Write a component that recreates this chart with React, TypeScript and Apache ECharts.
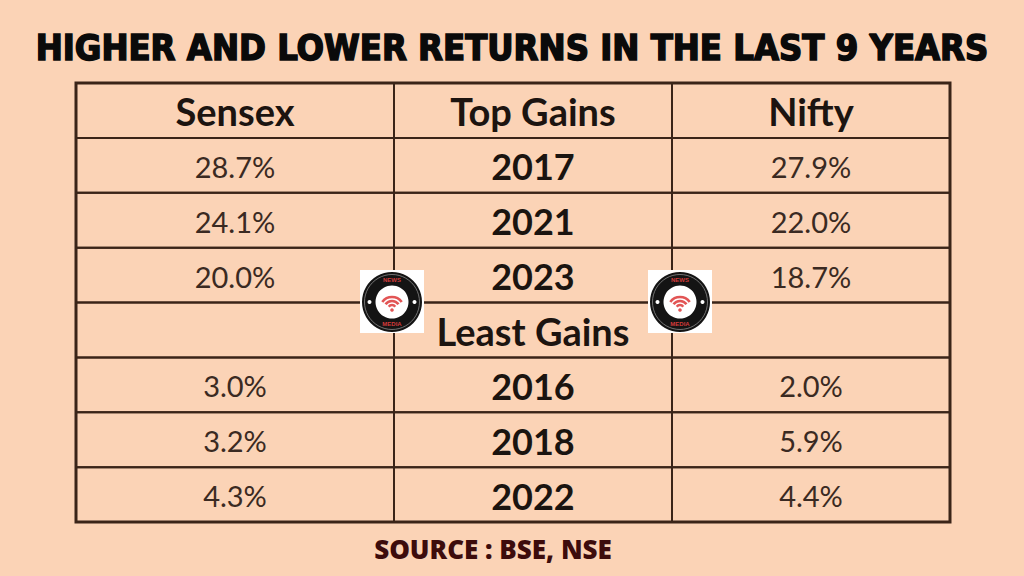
import React, { useEffect, useRef } from "react";
import * as echarts from "echarts";

// ---- data ----
const headers = ["Sensex", "Top Gains", "Nifty"];
const topYears = ["2017", "2021", "2023"];
const topSensex = [28.7, 24.1, 20.0];
const topNifty = [27.9, 22.0, 18.7];
const leastLabel = "Least Gains";
const leastYears = ["2016", "2018", "2022"];
const leastSensex = [3.0, 3.2, 4.3];
const leastNifty = [2.0, 5.9, 4.4];
const titleText = "HIGHER AND LOWER RETURNS IN THE LAST 9 YEARS";
const sourceText = "SOURCE : BSE, NSE";

// ---- layout / style ----
const BG = "#FBD3B6";
const LINE = "#3a2418";
const colEdges = [0, 318, 596, 874];
const fmt = (v: number) => v.toFixed(1) + "%";

type Kind = "head" | "value" | "year" | "empty";
type Cell = { col: number; row: number; text: string; kind: Kind };

function buildCells(): Cell[] {
  const cells: Cell[] = [];
  headers.forEach((h, c) => cells.push({ col: c, row: 0, text: h, kind: "head" }));
  topYears.forEach((y, i) => {
    const r = 1 + i;
    cells.push({ col: 0, row: r, text: fmt(topSensex[i]), kind: "value" });
    cells.push({ col: 1, row: r, text: y, kind: "year" });
    cells.push({ col: 2, row: r, text: fmt(topNifty[i]), kind: "value" });
  });
  cells.push({ col: 0, row: 4, text: "", kind: "empty" });
  cells.push({ col: 1, row: 4, text: leastLabel, kind: "head" });
  cells.push({ col: 2, row: 4, text: "", kind: "empty" });
  leastYears.forEach((y, i) => {
    const r = 5 + i;
    cells.push({ col: 0, row: r, text: fmt(leastSensex[i]), kind: "value" });
    cells.push({ col: 1, row: r, text: y, kind: "year" });
    cells.push({ col: 2, row: r, text: fmt(leastNifty[i]), kind: "value" });
  });
  return cells;
}

function logo(cx: number, cy: number) {
  return {
    type: "group",
    x: cx,
    y: cy,
    z: 100,
    children: [
      { type: "rect", z: 100, shape: { x: -32, y: -32, width: 64, height: 63 }, style: { fill: "#ffffff" } },
      { type: "circle", z: 101, shape: { cx: 0, cy: 0, r: 30 }, style: { fill: "#141414" } },
      { type: "circle", z: 102, shape: { cx: 0, cy: 0, r: 27.5 }, style: { fill: "none", stroke: "#8a8a8a", lineWidth: 0.8 } },
      { type: "circle", z: 102, shape: { cx: 0, cy: 0, r: 16.5 }, style: { fill: "#ffffff" } },
      { type: "circle", z: 102, shape: { cx: -22.5, cy: 0, r: 2 }, style: { fill: "#ffffff" } },
      { type: "circle", z: 102, shape: { cx: 22.5, cy: 0, r: 2 }, style: { fill: "#ffffff" } },
      { type: "text", z: 103, style: { x: 0, y: -22, text: "NEWS", fill: "#d23b3b", font: "bold 6px sans-serif", align: "center", verticalAlign: "middle" } },
      { type: "text", z: 103, style: { x: 0, y: 22, text: "MEDIA", fill: "#d23b3b", font: "bold 6px sans-serif", align: "center", verticalAlign: "middle" } },
      { type: "arc", z: 103, shape: { cx: 0, cy: 7, r: 12, startAngle: -Math.PI * 0.8, endAngle: -Math.PI * 0.2 }, style: { stroke: "#e25555", lineWidth: 2.6, fill: "none" } },
      { type: "arc", z: 103, shape: { cx: 0, cy: 7, r: 8, startAngle: -Math.PI * 0.8, endAngle: -Math.PI * 0.2 }, style: { stroke: "#e25555", lineWidth: 2.6, fill: "none" } },
      { type: "arc", z: 103, shape: { cx: 0, cy: 7, r: 4, startAngle: -Math.PI * 0.8, endAngle: -Math.PI * 0.2 }, style: { stroke: "#e25555", lineWidth: 2.6, fill: "none" } },
      { type: "circle", z: 103, shape: { cx: 0, cy: 8, r: 1.8 }, style: { fill: "#e25555" } },
    ],
  };
}

export default function App() {
  const ref = useRef<HTMLDivElement>(null);
  useEffect(() => {
    if (!ref.current) return;
    const chart = echarts.init(ref.current, undefined, { renderer: "svg" });
    const cells = buildCells();
    const rowKeys = Array.from({ length: 8 }, (_, i) => "r" + i);
    const fonts: Record<Kind, string> = {
      head: "bold 38px Lato",
      value: "29px Lato",
      year: "bold 36px Lato",
      empty: "27px Lato",
    };
    const colors: Record<Kind, string> = {
      head: "#1c1410",
      value: "#3a2a22",
      year: "#1a1410",
      empty: "#000",
    };
    chart.setOption({
      animation: false,
      backgroundColor: BG,
      title: {
        text: titleText,
        left: "center",
        top: 24,
        textStyle: {
          fontFamily: "DejaVu Sans Condensed",
          fontWeight: "bold",
          fontSize: 36,
          color: "#0a0a0a",
          textBorderColor: "#0a0a0a",
          textBorderWidth: 1.5,
          textShadowColor: "#e98b80",
          textShadowOffsetX: 2,
          textShadowOffsetY: 2,
          textShadowBlur: 0,
        },
      },
      grid: {
        left: 76,
        top: 83,
        width: 874,
        height: 439,
        show: true,
        borderColor: LINE,
        borderWidth: 3,
        backgroundColor: "transparent",
      },
      xAxis: { type: "value", min: colEdges[0], max: colEdges[3], show: false },
      yAxis: { type: "category", data: rowKeys, inverse: true, show: false },
      series: [
        {
          type: "custom",
          z: 2,
          data: cells.map((c) => [c.col, c.row]),
          renderItem: (params: any, api: any) => {
            const cell = cells[params.dataIndex];
            const row = api.value(1);
            const p0 = api.coord([colEdges[cell.col], row]);
            const p1 = api.coord([colEdges[cell.col + 1], row]);
            const h = api.size([0, 1])[1];
            const x0 = p0[0];
            const x1 = p1[0];
            const y0 = p0[1] - h / 2;
            return {
              type: "group",
              children: [
                {
                  type: "rect",
                  shape: { x: x0, y: y0, width: x1 - x0, height: h },
                  style: { fill: "none", stroke: LINE, lineWidth: 2 },
                },
                {
                  type: "text",
                  style: {
                    x: (x0 + x1) / 2,
                    y: y0 + h / 2 + 1,
                    text: cell.text,
                    font: fonts[cell.kind],
                    fill: colors[cell.kind],
                    align: "center",
                    verticalAlign: "middle",
                  },
                },
              ],
            };
          },
        },
      ],
      graphic: [
        logo(392, 302),
        logo(680, 302),
        {
          type: "text",
          x: 493,
          y: 549,
          z: 100,
          style: {
            text: sourceText,
            font: "800 26px 'Open Sans'",
            fill: "#3d0c0c",
            align: "center",
            verticalAlign: "middle",
          },
        },
      ],
    });
    return () => chart.dispose();
  }, []);
  return (
    <div
      ref={ref}
      style={{ position: "absolute", left: 0, top: 0, width: 1024, height: 576 }}
    />
  );
}
